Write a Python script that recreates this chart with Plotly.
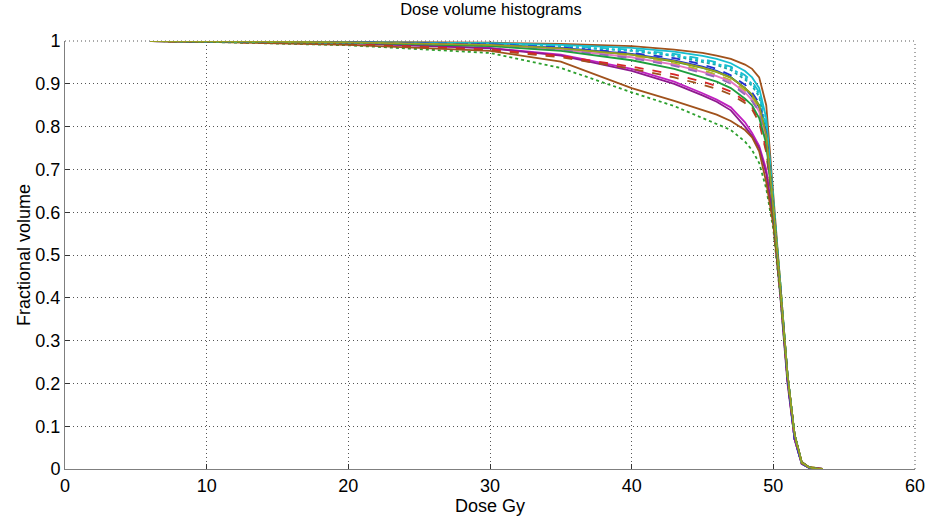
import plotly.graph_objects as go

dose_gy = [6, 10, 20, 30, 35, 40, 43, 45, 46, 47, 48, 48.5, 49, 49.5, 50, 50.5, 51, 51.5, 52, 52.5, 53, 53.5]

vol_01 = [1, .999, .998, .996, .993, .988, .98, .972, .966, .958, .945, .935, .915, .85, .64, .44, .22, .08, .015, .004, .001, 0]
vol_02 = [1, .999, .998, .995, .991, .984, .975, .965, .958, .948, .93, .915, .89, .82, .63, .43, .21, .07, .012, .003, .001, 0]
vol_03 = [1, .999, .997, .994, .989, .98, .97, .958, .95, .94, .92, .905, .88, .80, .62, .43, .22, .08, .014, .004, .001, 0]
vol_04 = [1, .999, .997, .993, .987, .977, .965, .952, .944, .932, .91, .895, .87, .79, .62, .42, .21, .07, .013, .003, .001, 0]
vol_05 = [1, .999, .997, .992, .984, .97, .955, .94, .93, .915, .89, .87, .845, .78, .61, .42, .22, .08, .015, .004, .001, 0]
vol_06 = [1, .999, .996, .99, .982, .968, .952, .937, .928, .915, .89, .875, .85, .78, .62, .43, .22, .08, .016, .004, .001, 0]
vol_07 = [1, .999, .996, .989, .98, .963, .945, .93, .92, .905, .88, .86, .835, .77, .61, .42, .21, .07, .014, .004, .001, 0]
vol_08 = [1, .999, .996, .99, .981, .965, .948, .932, .922, .908, .885, .868, .84, .77, .61, .43, .22, .08, .016, .005, .002, 0]
vol_09 = [1, .999, .996, .99, .98, .962, .945, .928, .918, .905, .88, .862, .835, .77, .60, .42, .21, .07, .013, .003, .001, 0]
vol_10 = [1, .999, .996, .989, .979, .96, .942, .925, .915, .90, .875, .86, .835, .77, .61, .42, .22, .08, .015, .004, .001, 0]
vol_11 = [1, .999, .995, .984, .968, .935, .905, .878, .863, .845, .81, .785, .755, .70, .58, .41, .21, .07, .013, .003, .001, 0]
vol_12 = [1, .999, .995, .983, .966, .93, .90, .873, .858, .838, .80, .778, .75, .69, .58, .40, .20, .07, .012, .003, .001, 0]
vol_13 = [1, .998, .993, .978, .962, .935, .915, .898, .888, .875, .855, .84, .81, .74, .60, .42, .22, .08, .016, .004, .001, 0]
vol_14 = [1, .998, .993, .98, .965, .94, .922, .905, .895, .882, .86, .845, .815, .745, .60, .42, .21, .08, .015, .004, .001, 0]
vol_15 = [1, .998, .99, .972, .937, .88, .848, .82, .807, .792, .765, .745, .715, .655, .56, .40, .21, .08, .016, .005, .002, 0]
vol_16 = [1, .998, .991, .977, .952, .89, .86, .838, .828, .813, .792, .775, .742, .67, .57, .41, .22, .08, .017, .005, .002, 0]
vol_17 = [1, .999, .996, .988, .977, .955, .935, .915, .905, .89, .865, .85, .82, .76, .60, .42, .22, .08, .015, .004, .001, 0]
vol_18 = [1, .999, .997, .993, .988, .978, .967, .955, .947, .937, .915, .90, .875, .80, .62, .43, .22, .08, .014, .004, .001, 0]
vol_19 = [1, .999, .997, .992, .985, .972, .96, .945, .935, .92, .898, .88, .855, .785, .61, .42, .21, .07, .013, .003, .001, 0]
vol_20 = [1, .999, .997, .991, .983, .968, .953, .938, .928, .914, .89, .874, .848, .78, .61, .42, .22, .08, .015, .004, .001, 0]

series = [
    ("DVH 1", vol_01, "#a0521c", "solid"),
    ("DVH 2", vol_02, "#17becf", "solid"),
    ("DVH 3", vol_03, "#17becf", "dash"),
    ("DVH 4", vol_04, "#1aa8a8", "dot"),
    ("DVH 5", vol_05, "#1f2fd0", "solid"),
    ("DVH 6", vol_06, "#2ca02c", "solid"),
    ("DVH 7", vol_07, "#2ca02c", "dash"),
    ("DVH 8", vol_08, "#bcbd22", "dash"),
    ("DVH 9", vol_09, "#e377c2", "solid"),
    ("DVH 10", vol_10, "#9467bd", "dash"),
    ("DVH 11", vol_11, "#c020c0", "solid"),
    ("DVH 12", vol_12, "#8e1a8e", "solid"),
    ("DVH 13", vol_13, "#a0521c", "dash"),
    ("DVH 14", vol_14, "#d62728", "dash"),
    ("DVH 15", vol_15, "#2ca02c", "dot"),
    ("DVH 16", vol_16, "#a0521c", "solid"),
    ("DVH 17", vol_17, "#1e9e3e", "solid"),
    ("DVH 18", vol_18, "#17becf", "dot"),
    ("DVH 19", vol_19, "#1f2fd0", "dash"),
    ("DVH 20", vol_20, "#9aa020", "solid"),
]

x_ticks = [0, 10, 20, 30, 40, 50, 60]
y_ticks = [0, 0.1, 0.2, 0.3, 0.4, 0.5, 0.6, 0.7, 0.8, 0.9, 1]
y_tick_text = ["0", "0.1", "0.2", "0.3", "0.4", "0.5", "0.6", "0.7", "0.8", "0.9", "1"]

fig = go.Figure()
for name, vals, color, dash in series:
    fig.add_trace(go.Scatter(x=dose_gy, y=vals, mode="lines", name=name,
                             line=dict(color=color, width=1.8, dash=dash),
                             showlegend=False))

grid_color = "#555555"
# dotted frame lines on the top and right edges (MATLAB-style grid at limits)
fig.add_shape(type="line", xref="paper", yref="paper", x0=0, x1=1, y0=1, y1=1,
              line=dict(color=grid_color, width=1, dash="1px,3px"), layer="below")
fig.add_shape(type="line", xref="paper", yref="paper", x0=1, x1=1, y0=0, y1=1,
              line=dict(color=grid_color, width=1, dash="1px,3px"), layer="below")

font_family = "Liberation Sans, Arial, sans-serif"
fig.update_layout(
    width=937, height=520,
    margin=dict(l=65, r=20, t=41, b=50),
    plot_bgcolor="white", paper_bgcolor="white",
    font=dict(family=font_family, size=18, color="black"),
    title=dict(text="Dose volume histograms", x=0.524, xanchor="center",
               y=0.994, yanchor="top", font=dict(size=16.5)),
)
axis_common = dict(
    showline=True, linecolor="#7f7f7f", linewidth=1, mirror=False,
    showgrid=True, gridcolor=grid_color, griddash="1px,3px", gridwidth=1,
    ticks="inside", ticklen=5, tickcolor="#333333",
    zeroline=False,
)
fig.update_xaxes(range=[0, 60], tickvals=x_ticks, ticktext=[str(t) for t in x_ticks],
                 title=dict(text="Dose Gy", standoff=0, font=dict(size=18)), **axis_common)
fig.update_yaxes(range=[0, 1], tickvals=y_ticks, ticktext=y_tick_text,
                 title=dict(text="Fractional volume", standoff=0, font=dict(size=18)), **axis_common)

fig.write_html("out.html")
